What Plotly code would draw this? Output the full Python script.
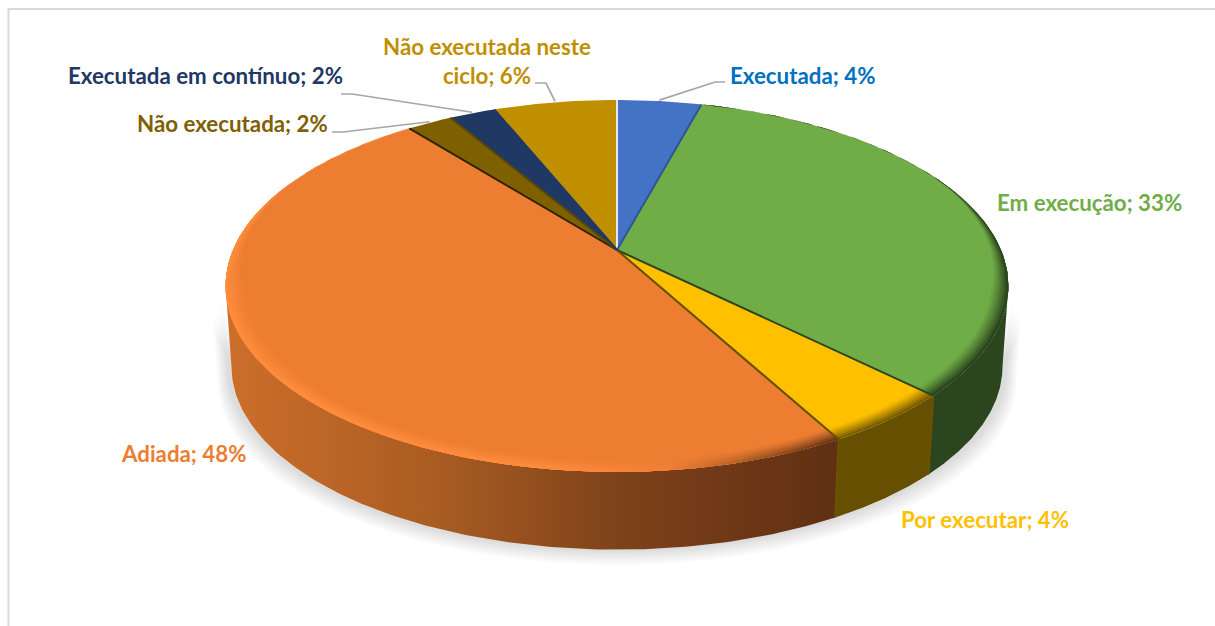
import numpy as np
import plotly.graph_objects as go

categories = ["Executada", "Em execução", "Por executar", "Adiada",
              "Não executada", "Executada em contínuo", "Não executada neste ciclo"]
shares = [4.2, 33.2, 4.65, 47.25, 2.25, 2.3, 6.15]
shown_percent = [4, 33, 4, 48, 2, 2, 6]

face_colors = ["#4472C4", "#70AD47", "#FFC000", "#ED7D31", "#7F6000", "#1F3864", "#BF8F00"]
text_colors = ["#0070C0", "#70AD47", "#FFC000", "#ED7D31", "#7F6000", "#1F3864", "#BF8F00"]
edge_colors = ["#E4E8F0", "#2F5597", "#2B451E", "#664F00", "#2E2500", "#5A4800", "#1F3864"]

# Drawing frame: pixels of the picture
W, H = 1215, 626
CX, CY = 617.0, 250.0
R, S, K = 384.0, 179.0, 0.1935
SIDE_SCALE, SIDE_DROP = 0.985, 81.0

# per-slice side shading: (position across the picture, colour)
side_shades = {
    1: [(0.0, "#2B451E"), (1.0, "#2B451E")],
    2: [(0.0, "#664F00"), (1.0, "#664F00")],
    3: [(0.0, "#D0722B"), (0.19, "#CC6E2A"), (0.36, "#A95C22"), (0.51, "#7E421A"),
        (0.63, "#6A3515"), (0.70, "#5E2F13"), (1.0, "#5E2F13")],
}
bevel_shades = {
    1: [(0.0, "#2B451E"), (1.0, "#2B451E")],
    2: [(0.0, "#7A5E00"), (1.0, "#7A5E00")],
    3: [(0.0, "#FF8C3C"), (0.45, "#FF8C3C"), (0.55, "#F08038"), (0.62, "#A85A22"),
        (0.70, "#5E2F13"), (1.0, "#5E2F13")],
}


def project(theta, r=1.0):
    u, v = np.sin(theta) * r, np.cos(theta) * r
    w = 1 + K * v
    return CX + R * u / w, CY - S * v / w


def lower(x, y):
    return CX + (x - CX) * SIDE_SCALE, CY + (y - CY) * SIDE_SCALE + SIDE_DROP


def hexmix(a, b, t):
    ca = np.array([int(a[i:i + 2], 16) for i in (1, 3, 5)], float)
    cb = np.array([int(b[i:i + 2], 16) for i in (1, 3, 5)], float)
    c = (ca * (1 - t) + cb * t).round().astype(int)
    return "#%02X%02X%02X" % tuple(c)


def poly(x, y, color=None, gradient=None):
    kw = dict(x=list(x), y=list(y), mode="lines", fill="toself", line=dict(width=0),
              hoverinfo="skip", showlegend=False)
    if gradient is not None:
        kw["fillgradient"] = dict(type="horizontal", start=0, stop=W, colorscale=gradient)
    else:
        kw["fillcolor"] = color
    return go.Scatter(**kw)


total = sum(shares)
cuts = np.concatenate([[0], np.cumsum(shares)]) / total * 2 * np.pi
arcs = [np.linspace(cuts[i], cuts[i + 1], max(8, int(shares[i] * 6))) for i in range(len(shares))]

fig = go.Figure()

# soft ground shadow: the disc's outline pushed outward and down
front_start = np.arccos(-K)
front_end = 2 * np.pi - front_start
t_front = np.linspace(front_start, front_end, 200)
for step in range(7):
    tx, ty = project(t_front)
    gx, gy = lower(tx, ty)
    sx = np.concatenate([tx, gx[::-1]])
    sy = np.concatenate([ty, gy[::-1]])
    spread = 1.012 + 0.004 * step
    sx = CX + (sx - CX) * spread
    sy = sy + 2 + 2.2 * step
    fig.add_trace(poly(sx, sy, "rgba(0,0,0,0.018)"))

# sides: green, orange, yellow (near half of the rim only)
for i in (1, 3, 2):
    a = max(cuts[i], front_start)
    b = min(cuts[i + 1], front_end)
    th = np.linspace(a, b, 120)
    x, y = project(th)
    lx, ly = lower(x, y)
    px = np.concatenate([x, lx[::-1]])
    py = np.concatenate([y, ly[::-1]])
    fig.add_trace(poly(px, py, gradient=[[p, c] for p, c in side_shades[i]]))

# faces
for i in range(len(shares)):
    x, y = project(arcs[i])
    fig.add_trace(poly(np.concatenate([[CX], x, [CX]]), np.concatenate([[CY], y, [CY]]), face_colors[i]))

# bevel along the near rim
LAYERS = 6
for i in (1, 2, 3):
    th = np.linspace(cuts[i], cuts[i + 1], 90)
    fade = np.clip((0.45 - np.cos(th)) / 0.7, 0, 1)
    for j in range(LAYERS):
        depth = 0.042 * (1 - j / LAYERS)
        inner = 1 - depth * fade
        ox, oy = project(th)
        ix, iy = project(th, inner)
        t = ((j + 1) / LAYERS) ** 1.2
        grad = [[p, hexmix(face_colors[i], c, t)] for p, c in bevel_shades[i]]
        fig.add_trace(poly(np.concatenate([ix, ox[::-1]]), np.concatenate([iy, oy[::-1]]), gradient=grad))

# slice separators
for i in range(len(shares)):
    x, y = project(np.array([cuts[i]]))
    fig.add_trace(go.Scatter(x=[CX, x[0]], y=[CY, y[0]], mode="lines",
                             line=dict(color=edge_colors[i], width=2),
                             hoverinfo="skip", showlegend=False))

# side corners between slices
for i in (2, 3):
    x, y = project(np.array([cuts[i]]))
    lx, ly = lower(x, y)
    fig.add_trace(go.Scatter(x=[x[0], lx[0]], y=[y[0], ly[0]], mode="lines",
                             line=dict(color="#6B5200", width=2),
                             hoverinfo="skip", showlegend=False))

# leader lines: label end, elbow, then the slice's rim middle
leaders = {
    0: [(725, 82), (715, 82)],
    4: [(332, 132), (343, 132)],
    5: [(341, 94), (352, 94)],
    6: [(535, 83), (546, 83)],
}
for i, pts in leaders.items():
    mid = (cuts[i] + cuts[i + 1]) / 2
    mx, my = project(np.array([mid]), 1.0)
    xs = [p[0] for p in pts] + [mx[0]]
    ys = [p[1] for p in pts] + [my[0] - 1]
    fig.add_trace(go.Scatter(x=xs, y=ys, mode="lines", line=dict(color="#A6A6A6", width=1.7),
                             hoverinfo="skip", showlegend=False))

# labels
label_pos = {0: (802, 75), 1: (1089, 202), 2: (985, 519), 3: (183, 453),
             4: (232, 123), 5: (205.5, 75), 6: (487, 61)}
label_text = {i: f"{categories[i]}; {shown_percent[i]}%" for i in range(len(categories))}
label_text[6] = f"Não executada neste<br>ciclo; {shown_percent[6]}%"
for i, (lx, ly) in label_pos.items():
    fig.add_annotation(x=lx, y=ly, text=label_text[i], showarrow=False, align="center",
                       font=dict(family="Lato", size=22.3, color=text_colors[i], weight="bold"))

# chart frame
fig.add_trace(go.Scatter(x=[8.5, 8.5, W], y=[H, 9, 9], mode="lines",
                         line=dict(color="#D9D9D9", width=2), hoverinfo="skip", showlegend=False))

fig.update_layout(
    width=W, height=H, margin=dict(l=0, r=0, t=0, b=0),
    paper_bgcolor="white", plot_bgcolor="white", showlegend=False,
    xaxis=dict(range=[0, W], visible=False, fixedrange=True),
    yaxis=dict(range=[H, 0], visible=False, fixedrange=True),
)
fig.write_html("out.html", config={"displayModeBar": False},
               post_script="document.body.style.margin='0';document.documentElement.style.overflow='hidden';")
